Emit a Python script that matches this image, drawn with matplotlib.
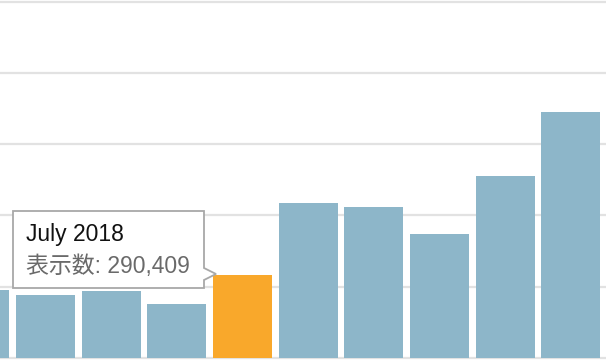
import matplotlib
matplotlib.use("Agg")
import matplotlib.pyplot as plt
from matplotlib.patches import Polygon

months = ["March 2018", "April 2018", "May 2018", "June 2018", "July 2018",
          "August 2018", "September 2018", "October 2018", "November 2018", "December 2018"]
views = [238000, 221000, 235000, 189000, 290409, 543000, 529000, 435000, 638000, 863000]
highlight = 4
value_label = "表示数"
gridvals = [0, 250000, 500000, 750000, 1000000, 1250000]

W, H = 606, 360
fig = plt.figure(figsize=(W / 100, H / 100), dpi=100)
ax = fig.add_axes([0, 0, 1, 1])

blue = "#8db6c9"
orange = "#f9a82b"
colors = [orange if i == highlight else blue for i in range(len(views))]
xs = list(range(len(views)))
ax.bar(xs, views, width=0.898, color=colors, zorder=2)

for g in gridvals:
    ax.axhline(g, color="#e2e2e2", lw=1.6, zorder=1)

ax.set_xlim(0.309, 9.533)
ax.set_ylim(-7013, 1255260)
ax.axis("off")

def P(x, y):
    return (x / W, 1 - y / H)

pts = [P(13, 211), P(204, 211), P(204, 268), P(216, 274), P(204, 280),
       P(204, 288), P(13, 288)]
tip = Polygon(pts, closed=True, transform=fig.transFigure, facecolor="white",
              edgecolor="#a8a8a8", lw=1.3, zorder=5)
fig.patches.append(tip)

fam = ["Liberation Sans", "Noto Sans CJK JP"]
fig.text(*P(26, 241.5), months[highlight], fontsize=16.5, color="#111111",
         family=fam, va="baseline", ha="left", zorder=6)
fig.text(*P(26, 273), f"{value_label}: {views[highlight]:,}", fontsize=16.5,
         color="#6a6a6a", family=fam, va="baseline", ha="left", zorder=6)

fig.savefig("out.png", dpi=100)
